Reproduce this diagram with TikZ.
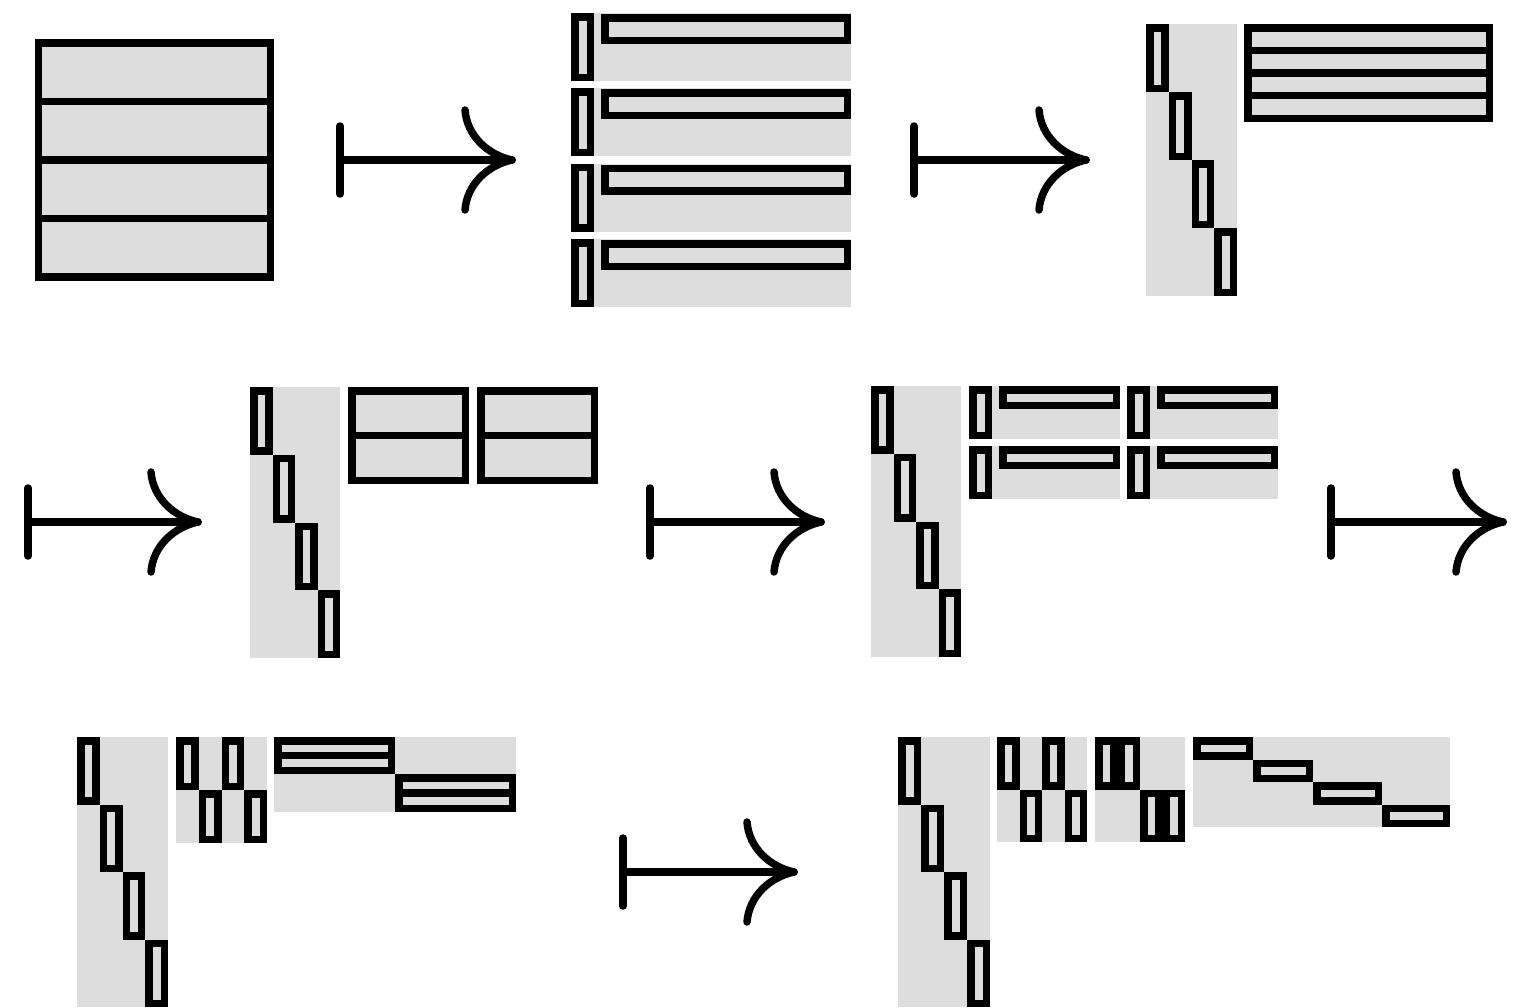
\documentclass[tikz,border=0pt]{standalone}
\definecolor{bg}{RGB}{221,221,221}
\tikzset{
  ob/.style={draw=black, fill=bg, line width=7.5pt},
  bgf/.style={fill=bg},
  arr/.style={draw=black, line width=7.5pt, line cap=round, line join=round},
}
% outlined box given by its outer edges
\newcommand\ZBox[4]{\path[ob] ({#1+3.75},{#2+3.75}) rectangle ({#3-3.75},{#4-3.75});}
% plain grey block
\newcommand\ZGray[4]{\path[bgf] ({#1},{#2}) rectangle ({#3},{#4});}
% grey column with four diagonal boxes
\newcommand\ZDiag[4]{\ZGray{#1}{#2}{#3}{#4}%
  \foreach \i in {0,1,2,3}{\ZBox{#1+\i*(#3-#1)/4}{#2+\i*(#4-#2)/4}{#1+(\i+1)*(#3-#1)/4}{#2+(\i+1)*(#4-#2)/4}}}
% maps-to arrow: bar x, tip x, y
\newcommand\ZArrow[3]{%
  \path[arr] ({#1},{#3-34}) -- ({#1},{#3+34});
  \path[arr] ({#1},{#3}) -- ({#2},{#3});
  \path[arr] ({#2-47},{#3-50}) .. controls ({#2-45},{#3-24}) and ({#2-24},{#3-5}) .. ({#2},{#3})
             .. controls ({#2-24},{#3+5}) and ({#2-45},{#3+24}) .. ({#2-47},{#3+50});}
\begin{document}
\begin{tikzpicture}[x=1pt,y=-1pt]
\useasboundingbox (0,0) rectangle (1525,1007);

% ---------- Panel 1 ----------
\foreach \a/\b in {43/101.5,101.5/160,160/218.5,218.5/277}
  \path[ob] (38.5,\a) rectangle (270.5,\b);
\ZArrow{340}{512}{160}

% ---------- Panel 2 ----------
\foreach \t in {13,88.33,163.67,239}{
  \ZGray{571}{\t}{851}{\t+68}
  \ZBox{571}{\t}{594}{\t+68}
  \ZBox{601}{\t+1}{851}{\t+31}
}
\ZArrow{914}{1086}{160}

% ---------- Panel 3 ----------
\ZDiag{1146}{24}{1237}{296}
\foreach \a/\b in {27.75/50.5,50.5/73,73/95.5,95.5/118.25}
  \path[ob] (1247.75,\a) rectangle (1489.25,\b);

% ---------- Row 2 ----------
\ZArrow{28}{198}{522}

% Panel 4
\ZDiag{250}{387}{340}{658}
\foreach \x in {348,477}{
  \path[ob] ({\x+3.75},390.75) rectangle ({\x+117.25},435.5);
  \path[ob] ({\x+3.75},435.5) rectangle ({\x+117.25},480.25);
}
\ZArrow{650}{821}{522}

% Panel 5
\ZDiag{871}{386}{961}{657}
\foreach \bx in {969,1127}{
  \foreach \by in {386,446}{
    \ZGray{\bx}{\by}{\bx+151}{\by+53}
    \ZBox{\bx}{\by}{\bx+23}{\by+53}
    \ZBox{\bx+30}{\by}{\bx+151}{\by+23}
  }
}
\ZArrow{1331}{1503}{522}

% ---------- Row 3 ----------
% Panel 6
\ZDiag{77}{737}{168}{1007}
\ZGray{176}{737}{267}{843}
\ZBox{176}{737}{198.75}{790}
\ZBox{221.5}{737}{244.25}{790}
\ZBox{198.75}{790}{221.5}{843}
\ZBox{244.25}{790}{267}{843}
\ZGray{274}{737}{516}{812}
\path[ob] (277.75,740.75) rectangle (391.25,755.5);
\path[ob] (277.75,755.5) rectangle (391.25,770.25);
\path[ob] (398.75,777.75) rectangle (512.25,793);
\path[ob] (398.75,793) rectangle (512.25,808.25);

\ZArrow{623}{794}{872}

% Panel 7
\ZDiag{898}{737}{990}{1007}
\ZGray{997}{737}{1087}{842}
\ZBox{997}{737}{1019.5}{789.5}
\ZBox{1042}{737}{1064.5}{789.5}
\ZBox{1019.5}{789.5}{1042}{842}
\ZBox{1064.5}{789.5}{1087}{842}
\ZGray{1095}{737}{1185}{842}
\ZBox{1095}{737}{1117.5}{789.5}
\ZBox{1117.5}{737}{1140}{789.5}
\ZBox{1140}{789.5}{1162.5}{842}
\ZBox{1162.5}{789.5}{1185}{842}
\ZGray{1193}{737}{1450}{827}
\ZBox{1193}{737}{1253}{759.5}
\ZBox{1253}{759.5}{1313}{782}
\ZBox{1313}{782}{1382}{804.5}
\ZBox{1382}{804.5}{1450}{827}
\end{tikzpicture}
\end{document}
